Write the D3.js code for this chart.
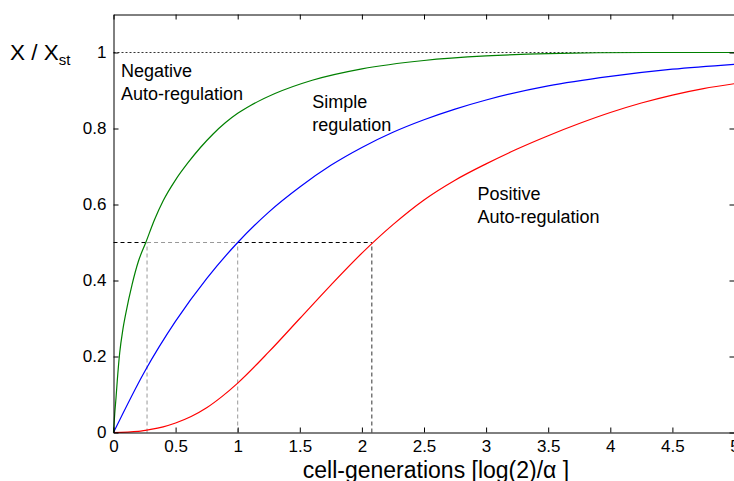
<!DOCTYPE html>
<html lang="en">
	<head>
		<meta charset="UTF-8">
		<title>Response time</title>
		<script src="https://cdnjs.cloudflare.com/ajax/libs/d3/7.8.5/d3.min.js"></script>
		<style>
			body {margin: 0; background: #fff;}
			text {font-family: "Liberation Sans", Arial, sans-serif; fill: #000;}
		</style>
		<script>
// values (time in cell-generations, X / Xst)
var negT = [0, 0.01, 0.02, 0.03, 0.05, 0.075, 0.1, 0.15, 0.2, 0.26, 0.33, 0.4, 0.5, 0.6, 0.7, 0.8, 0.9, 1.0, 1.1, 1.3, 1.6, 2.0, 2.5, 3.0, 3.5, 4.3, 5];
var negX = [0, 0.05, 0.09, 0.135, 0.21, 0.27, 0.315, 0.39, 0.45, 0.5, 0.56, 0.61, 0.665, 0.71, 0.75, 0.785, 0.815, 0.84, 0.86, 0.892, 0.927, 0.957, 0.979, 0.991, 0.997, 1.0, 1.0];

var simpleT = [0, 0.25, 0.5, 0.75, 1, 1.25, 1.5, 1.75, 2, 2.25, 2.5, 2.75, 3, 3.5, 4, 4.5, 5];
var simpleX = [0, 0.16, 0.293, 0.405, 0.5, 0.58, 0.646, 0.703, 0.75, 0.79, 0.823, 0.851, 0.875, 0.912, 0.937, 0.956, 0.969];

var posT = [0, 0.2, 0.3, 0.4, 0.5, 0.625, 0.75, 0.875, 1, 1.25, 1.5, 1.75, 2, 2.25, 2.5, 2.75, 3, 3.25, 3.5, 3.75, 4, 4.25, 4.5, 4.75, 5];
var posX = [0, 0.003, 0.008, 0.015, 0.025, 0.042, 0.065, 0.095, 0.13, 0.212, 0.3, 0.388, 0.472, 0.547, 0.612, 0.664, 0.707, 0.746, 0.781, 0.813, 0.842, 0.867, 0.888, 0.905, 0.918];

var xTicks = [0, 0.5, 1, 1.5, 2, 2.5, 3, 3.5, 4, 4.5, 5];
var yTicks = [0, 0.2, 0.4, 0.6, 0.8, 1];

// half-response times marked with dashed guides
var halfTimes = [0.27, 1, 2.08];

function zip(a, b) {return a.map(function(d, i) {return [d, b[i]];});}

function makeChart() {
	var svg = d3.select("#chart").attr("width", 734).attr("height", 481);

	var L = 113.5, R = 734.5, T = 14.5, B = 432.5;
	var x = d3.scaleLinear().domain([0, 5]).range([L, R]);
	var y = d3.scaleLinear().domain([0, 1.1]).range([B, T]);
	var dash = "4,3";

	// guide lines
	svg.append("line")
		.attr("x1", x(0)).attr("x2", x(5)).attr("y1", y(1)).attr("y2", y(1))
		.attr("stroke", "#000").attr("stroke-width", 0.8).attr("stroke-dasharray", "2,2");

	var hseg = [[0, halfTimes[0], "#000"], [halfTimes[0], halfTimes[1], "#999"], [halfTimes[1], halfTimes[2], "#000"]];
	svg.selectAll("line.hguide").data(hseg).enter().append("line")
		.attr("class", "hguide")
		.attr("x1", function(d) {return x(d[0]);}).attr("x2", function(d) {return x(d[1]);})
		.attr("y1", y(0.5)).attr("y2", y(0.5))
		.attr("stroke", function(d) {return d[2];}).attr("stroke-dasharray", dash);

	svg.selectAll("line.vguide").data(halfTimes).enter().append("line")
		.attr("class", "vguide")
		.attr("x1", function(d) {return x(d);}).attr("x2", function(d) {return x(d);})
		.attr("y1", y(0)).attr("y2", y(0.5))
		.attr("stroke", function(d, i) {return i < 2 ? "#999" : "#333";})
		.attr("stroke-dasharray", dash);

	// curves
	var line = d3.line()
		.x(function(d) {return x(d[0]);})
		.y(function(d) {return y(d[1]);})
		.curve(d3.curveMonotoneX);

	[[posT, posX, "#ff0000"], [simpleT, simpleX, "#0000ff"], [negT, negX, "#008000"]].forEach(function(s) {
		svg.append("path")
			.attr("d", line(zip(s[0], s[1])))
			.attr("fill", "none").attr("stroke", s[2]).attr("stroke-width", 1.2);
	});

	// axes box with inward ticks
	var fmt = function(d) {return d3.format("")(d);};
	var xa = d3.axisBottom(x).tickValues(xTicks).tickSizeInner(-5).tickSizeOuter(0).tickPadding(7.5).tickFormat(fmt);
	var ya = d3.axisLeft(y).tickValues(yTicks).tickSizeInner(-5).tickSizeOuter(0).tickPadding(7).tickFormat(fmt);

	var gx = svg.append("g").attr("transform", "translate(0," + B + ")").call(xa);
	var gy = svg.append("g").attr("transform", "translate(" + L + ",0)").call(ya);
	svg.append("g").attr("transform", "translate(0," + T + ")")
		.call(d3.axisTop(x).tickValues(xTicks).tickSizeInner(-5).tickSizeOuter(0).tickFormat(""));
	svg.append("g").attr("transform", "translate(" + R + ",0)")
		.call(d3.axisRight(y).tickValues(yTicks).tickSizeInner(-5).tickSizeOuter(0).tickFormat(""));

	svg.selectAll(".domain").attr("stroke", "#000");
	svg.selectAll(".tick line").attr("stroke", "#000");
	gx.selectAll("text").attr("font-size", 17).attr("font-family", "Liberation Sans, Arial, sans-serif");
	gy.selectAll("text").attr("font-size", 17).attr("font-family", "Liberation Sans, Arial, sans-serif");

	// axis titles
	svg.append("text").attr("x", 436).attr("y", 477.5).attr("text-anchor", "middle")
		.attr("font-size", 23).text("cell-generations [log(2)/α ]");

	var yl = svg.append("text").attr("x", 10).attr("y", 60).attr("font-size", 22.5);
	yl.append("tspan").text("X / X");
	yl.append("tspan").attr("font-size", 15).attr("dy", 5).text("st");

	// curve labels
	var labels = [
		{lines: ["Negative", "Auto-regulation"], t: 0.06, v: 0.935},
		{lines: ["Simple", "regulation"], t: 1.6, v: 0.854},
		{lines: ["Positive", "Auto-regulation"], t: 2.93, v: 0.612}
	];
	labels.forEach(function(l) {
		var tx = svg.append("text").attr("x", x(l.t)).attr("y", y(l.v)).attr("font-size", 18);
		l.lines.forEach(function(s, i) {
			tx.append("tspan").attr("x", x(l.t)).attr("dy", i ? 23 : 0).text(s);
		});
	});
}
		</script>
	</head>
	<body onload="makeChart()">
		<svg id="chart"></svg>
	</body>
</html>
